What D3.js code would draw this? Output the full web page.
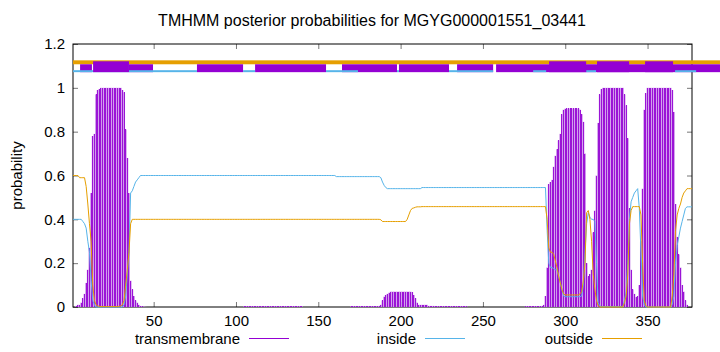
<!DOCTYPE html>
<html>
<head>
<meta charset="utf-8">
<script src="https://cdn.jsdelivr.net/npm/d3@7/dist/d3.min.js"></script>
<style>
body { margin: 0; background: #fff; }
text { font-family: "Liberation Sans", Arial, sans-serif; }
</style>
</head>
<body>
<div id="chart"></div>
<script>
// posterior probabilities per residue (1..377)
var transmembrane = [
0,0,0.005,0.01,0.01,0.02,0.04,0.06,0.11,0.17,
0.27,0.52,0.78,0.79,0.97,0.99,0.995,1,1,1,
1,1,1,1,1,1,1,1,1,1,
0.99,0.98,0.81,0.68,0.52,0.12,0.08,0.05,0.03,0.02,
0.01,0.005,0.003,0.002,0.001,0,0,0,0,0,
0,0,0,0,0,0,0,0,0,0,
0,0,0,0,0,0,0,0,0,0,
0,0,0,0,0,0,0,0,0,0,
0,0,0,0,0,0,0,0,0,0,
0,0,0,0,0,0,0,0,0,0,
0,0,0,0,0.003,0.003,0.003,0.003,0.003,0.003,
0.003,0.003,0.003,0.003,0.003,0.003,0.003,0.003,0.003,0.003,
0.003,0.003,0.003,0.003,0.003,0.003,0.003,0.003,0.003,0.003,
0.003,0.003,0.003,0.003,0.003,0.003,0.003,0.003,0.003,0.003,
0,0,0,0,0,0,0,0,0,0,
0,0,0,0,0,0,0,0,0,0,
0,0,0,0,0,0,0,0,0,0.003,
0.003,0.003,0.003,0.003,0.003,0.003,0.003,0.003,0.003,0.003,
0.003,0.003,0.003,0.003,0.003,0.003,0.005,0.01,0.03,0.047,
0.055,0.06,0.065,0.07,0.07,0.07,0.07,0.07,0.07,0.07,
0.07,0.07,0.07,0.07,0.07,0.07,0.068,0.055,0.04,0.02,
0.01,0.01,0.01,0.01,0.01,0.01,0.005,0.005,0.005,0.005,
0.003,0.003,0.003,0.003,0.003,0.003,0.003,0.003,0.003,0.003,
0.003,0.003,0.003,0.003,0.003,0.003,0.003,0.003,0.003,0.003,
0,0,0,0,0,0,0,0,0,0,
0,0,0,0,0,0,0,0,0,0,
0,0,0,0,0,0,0,0,0,0,
0,0,0,0,0,0.003,0.003,0.003,0.003,0.003,
0.003,0.003,0.003,0.003,0.003,0.005,0.01,0.05,0.18,0.56,
0.57,0.58,0.64,0.69,0.72,0.76,0.79,0.88,0.9,0.905,
0.906,0.906,0.906,0.906,0.906,0.906,0.906,0.906,0.9,0.88,
0.845,0.7,0.2,0.14,0.15,0.17,0.34,0.44,0.6,0.84,
0.97,0.995,1,1,1,1,1,1,1,1,
1,1,1,1,1,0.97,0.92,0.77,0.45,0.17,
0.08,0.06,0.045,0.05,0.1,0.3,0.54,0.9,0.976,1,
1,1,1,1,1,1,1,1,1,1,
1,1,1,1,0.99,0.89,0.47,0.32,0.24,0.18,
0.1,0.07,0.03,0.01,0,0,0
];

var inside = [
0.4,0.4,0.4,0.4,0.4,0.4,0.39,0.38,0.36,0.3,
0.25,0.12,0.03,0.01,0,0,0,0,0,0,
0,0,0,0,0,0,0,0,0,0,
0,0.01,0.05,0.15,0.25,0.52,0.53,0.55,0.57,0.58,
0.59,0.6,0.6,0.6,0.6,0.6,0.6,0.6,0.6,0.6,
0.6,0.6,0.6,0.6,0.6,0.6,0.6,0.6,0.6,0.6,
0.6,0.6,0.6,0.6,0.6,0.6,0.6,0.6,0.6,0.6,
0.6,0.6,0.6,0.6,0.6,0.6,0.6,0.6,0.6,0.6,
0.6,0.6,0.6,0.6,0.6,0.6,0.6,0.6,0.6,0.6,
0.6,0.6,0.6,0.6,0.6,0.6,0.6,0.6,0.6,0.6,
0.6,0.6,0.6,0.6,0.6,0.6,0.6,0.6,0.6,0.6,
0.6,0.6,0.6,0.6,0.6,0.6,0.6,0.6,0.6,0.6,
0.6,0.6,0.6,0.6,0.6,0.6,0.6,0.6,0.6,0.6,
0.6,0.6,0.6,0.6,0.6,0.6,0.6,0.6,0.6,0.6,
0.6,0.6,0.6,0.6,0.6,0.6,0.6,0.6,0.6,0.6,
0.6,0.6,0.6,0.6,0.6,0.6,0.6,0.6,0.6,0.6,
0.595,0.595,0.595,0.595,0.595,0.595,0.595,0.595,0.595,0.595,
0.595,0.595,0.595,0.595,0.595,0.595,0.595,0.595,0.595,0.595,
0.595,0.595,0.595,0.595,0.595,0.595,0.595,0.59,0.57,0.555,
0.545,0.54,0.54,0.54,0.54,0.54,0.54,0.54,0.54,0.54,
0.54,0.54,0.54,0.54,0.54,0.54,0.54,0.54,0.54,0.54,
0.54,0.54,0.545,0.545,0.545,0.545,0.545,0.545,0.545,0.545,
0.545,0.545,0.545,0.545,0.545,0.545,0.545,0.545,0.545,0.545,
0.545,0.545,0.545,0.545,0.545,0.545,0.545,0.545,0.545,0.545,
0.545,0.545,0.545,0.545,0.545,0.545,0.545,0.545,0.545,0.545,
0.545,0.545,0.545,0.545,0.545,0.545,0.545,0.545,0.545,0.545,
0.545,0.545,0.545,0.545,0.545,0.545,0.545,0.545,0.545,0.545,
0.545,0.545,0.545,0.545,0.545,0.545,0.545,0.545,0.545,0.545,
0.545,0.545,0.545,0.545,0.545,0.545,0.545,0.545,0.35,0.2,
0.18,0.18,0.175,0.17,0.17,0.14,0.11,0.08,0.05,0.047,
0.047,0.047,0.047,0.047,0.047,0.047,0.047,0.047,0.047,0.05,
0.1,0.25,0.38,0.43,0.41,0.4,0.4,0.39,0.2,0.02,
0.005,0.002,0.002,0.002,0.002,0.002,0.002,0.002,0.002,0.002,
0.002,0.002,0.002,0.002,0.002,0.03,0.07,0.2,0.4,0.48,
0.5,0.52,0.53,0.54,0.45,0.25,0.05,0.01,0,0,
0,0,0,0,0,0,0,0,0,0,
0,0,0,0,0.01,0.05,0.2,0.28,0.32,0.36,
0.39,0.42,0.45,0.457,0.457,0.457,0.457
];

var outside = [
0.6,0.6,0.6,0.6,0.59,0.59,0.59,0.59,0.55,0.47,
0.38,0.3,0.1,0.03,0.01,0.005,0.003,0.002,0.002,0.002,
0.002,0.002,0.002,0.002,0.002,0.002,0.002,0.002,0.003,0.005,
0.01,0.03,0.1,0.17,0.25,0.38,0.4,0.4,0.4,0.4,
0.4,0.4,0.4,0.4,0.4,0.4,0.4,0.4,0.4,0.4,
0.4,0.4,0.4,0.4,0.4,0.4,0.4,0.4,0.4,0.4,
0.4,0.4,0.4,0.4,0.4,0.4,0.4,0.4,0.4,0.4,
0.4,0.4,0.4,0.4,0.4,0.4,0.4,0.4,0.4,0.4,
0.4,0.4,0.4,0.4,0.4,0.4,0.4,0.4,0.4,0.4,
0.4,0.4,0.4,0.4,0.4,0.4,0.4,0.4,0.4,0.4,
0.4,0.4,0.4,0.4,0.4,0.4,0.4,0.4,0.4,0.4,
0.4,0.4,0.4,0.4,0.4,0.4,0.4,0.4,0.4,0.4,
0.4,0.4,0.4,0.4,0.4,0.4,0.4,0.4,0.4,0.4,
0.4,0.4,0.4,0.4,0.4,0.4,0.4,0.4,0.4,0.4,
0.4,0.4,0.4,0.4,0.4,0.4,0.4,0.4,0.4,0.4,
0.4,0.4,0.4,0.4,0.4,0.4,0.4,0.4,0.4,0.4,
0.4,0.4,0.4,0.4,0.4,0.4,0.4,0.4,0.4,0.4,
0.4,0.4,0.4,0.4,0.4,0.4,0.4,0.4,0.4,0.4,
0.4,0.4,0.4,0.4,0.4,0.4,0.4,0.398,0.39,0.39,
0.39,0.39,0.39,0.39,0.39,0.39,0.39,0.39,0.39,0.39,
0.39,0.39,0.39,0.4,0.42,0.44,0.45,0.452,0.455,0.457,
0.457,0.457,0.458,0.458,0.458,0.458,0.458,0.458,0.458,0.458,
0.458,0.458,0.458,0.458,0.458,0.458,0.458,0.458,0.458,0.458,
0.458,0.458,0.458,0.458,0.458,0.458,0.458,0.458,0.458,0.458,
0.458,0.458,0.458,0.458,0.458,0.458,0.458,0.458,0.458,0.458,
0.458,0.458,0.458,0.458,0.458,0.458,0.458,0.458,0.458,0.458,
0.458,0.458,0.458,0.458,0.458,0.458,0.458,0.458,0.458,0.458,
0.458,0.458,0.458,0.458,0.458,0.458,0.458,0.458,0.458,0.458,
0.458,0.458,0.458,0.458,0.458,0.458,0.458,0.458,0.4,0.27,
0.25,0.25,0.24,0.21,0.18,0.14,0.11,0.08,0.06,0.055,
0.055,0.055,0.055,0.055,0.055,0.055,0.055,0.055,0.06,0.07,
0.12,0.2,0.43,0.44,0.4,0.3,0.15,0.08,0.03,0.005,
0,0,0,0,0,0,0,0,0,0,
0,0,0,0,0,0.02,0.05,0.15,0.38,0.44,
0.458,0.458,0.458,0.458,0.458,0.42,0.2,0.03,0.005,0,
0,0,0,0,0,0,0,0,0,0,
0,0,0,0,0.05,0.15,0.35,0.42,0.45,0.47,
0.5,0.52,0.53,0.54,0.54,0.54,0.54
];

// predicted topology strips above the curves, [start, end] in residues
var outsideStrip = [[1, 394]];
var lowTmStrip = [[5.3, 12.5], [35, 49.6], [76.3, 104.3], [111.6, 154.7], [164.4, 197.8],
                  [199, 229.4], [234.3, 256.2], [258, 394]];
var insideStrip = [[1, 76.3], [104.3, 111.6], [154.7, 174.1], [197.8, 199], [229.4, 256.2],
                   [280.5, 288.4], [312.7, 318.7], [366.7, 379.5]];
var tmStrip = [[13.2, 35], [290.2, 312.7], [319.3, 338.8], [348.5, 365.5]];

var xTicks = [50, 100, 150, 200, 250, 300, 350];
var yTicks = [0, 0.2, 0.4, 0.6, 0.8, 1, 1.2];
var seqLength = 377;

var colTm = '#9400d3', colIn = '#56b4e9', colOut = '#e69f00';

var width = 720, height = 352;
var margin = {top: 44, right: 28, bottom: 45, left: 73};

var xScale = d3.scaleLinear()
    .domain([1, seqLength])
    .range([margin.left, width - margin.right]);
var yScale = d3.scaleLinear()
    .domain([0, 1.2])
    .range([height - margin.bottom, margin.top]);

var svg = d3.select('#chart').append('svg')
    .attr('width', width)
    .attr('height', height);

// axes, ticks pointing inward, mirrored on top and right
svg.append('g')
    .attr('transform', 'translate(0,' + yScale(0) + ')')
    .call(d3.axisBottom(xScale).tickValues(xTicks).tickSize(-5).tickPadding(8));
svg.append('g')
    .attr('transform', 'translate(' + margin.left + ',0)')
    .call(d3.axisLeft(yScale).tickValues(yTicks).tickSize(-5).tickPadding(8)
        .tickFormat(d3.format('~g')));
svg.append('g')
    .attr('transform', 'translate(0,' + yScale(1.2) + ')')
    .call(d3.axisTop(xScale).tickValues(xTicks).tickSize(-5).tickFormat(''));
svg.append('g')
    .attr('transform', 'translate(' + xScale(seqLength) + ',0)')
    .call(d3.axisRight(yScale).tickValues(yTicks).tickSize(-5).tickFormat(''));

svg.selectAll('.domain').remove();
svg.selectAll('.tick line').attr('stroke', '#777');
svg.selectAll('.tick text').attr('font-size', 15).attr('fill', '#000')
    .style('font-family', '"Liberation Sans", Arial, sans-serif');

svg.append('rect')
    .attr('x', xScale(1)).attr('y', yScale(1.2))
    .attr('width', xScale(seqLength) - xScale(1))
    .attr('height', yScale(0) - yScale(1.2))
    .attr('fill', 'none').attr('stroke', '#000').attr('stroke-width', 1);

// transmembrane impulses: a light wide stroke under a crisp dark one
var residues = d3.range(1, seqLength + 1).filter(function(r) { return transmembrane[r - 1] > 0; });
function impulses(color, w, crisp) {
    svg.append('g').selectAll('line')
        .data(residues)
        .enter().append('line')
        .attr('x1', function(r) { return xScale(r); })
        .attr('x2', function(r) { return xScale(r); })
        .attr('y1', yScale(0))
        .attr('y2', function(r) { return yScale(transmembrane[r - 1]); })
        .attr('stroke', color)
        .attr('stroke-width', w)
        .attr('shape-rendering', crisp ? 'crispEdges' : 'auto');
}
impulses('#cf98ec', 2, false);
impulses('#9b14d6', 1, true);

var line = d3.line()
    .x(function(d, i) { return xScale(i + 1); })
    .y(function(d) { return yScale(d); });

svg.append('path').attr('d', line(inside))
    .attr('fill', 'none').attr('stroke', colIn).attr('stroke-width', 1);
svg.append('path').attr('d', line(outside))
    .attr('fill', 'none').attr('stroke', colOut).attr('stroke-width', 1);

// topology strips
function strip(data, y0, y1, color) {
    svg.append('g').selectAll('rect')
        .data(data).enter().append('rect')
        .attr('x', function(d) { return xScale(d[0]); })
        .attr('width', function(d) { return xScale(d[1]) - xScale(d[0]); })
        .attr('y', yScale(y1))
        .attr('height', yScale(y0) - yScale(y1))
        .attr('fill', color);
}
strip(outsideStrip, 1.1075, 1.1255, colOut);
strip(lowTmStrip, 1.0715, 1.1075, colTm);
strip(insideStrip, 1.0715, 1.0805, colIn);
strip(tmStrip, 1.0715, 1.121, colTm);

// title and labels
svg.append('text')
    .attr('x', 372).attr('y', 26)
    .attr('text-anchor', 'middle')
    .attr('font-size', 16)
    .style('font-family', '"Liberation Sans Narrow", "Liberation Sans", Arial, sans-serif')
    .text('TMHMM posterior probabilities for MGYG000001551_03441');

svg.append('text')
    .attr('transform', 'translate(22,' + (yScale(0.6)) + ') rotate(-90)')
    .attr('text-anchor', 'middle')
    .attr('font-size', 15)
    .text('probability');

// legend
var legend = [
    {name: 'transmembrane', color: colTm, x: 240},
    {name: 'inside', color: colIn, x: 416},
    {name: 'outside', color: colOut, x: 593}
];
var lg = svg.append('g').selectAll('g').data(legend).enter().append('g');
lg.append('text')
    .attr('x', function(d) { return d.x; })
    .attr('y', 344)
    .attr('text-anchor', 'end')
    .attr('font-size', 15)
    .text(function(d) { return d.name; });
lg.append('line')
    .attr('x1', function(d) { return d.x + 9; })
    .attr('x2', function(d) { return d.x + 49; })
    .attr('y1', 338.5).attr('y2', 338.5)
    .attr('stroke', function(d) { return d.color; })
    .attr('stroke-width', 1);
</script>
</body>
</html>
